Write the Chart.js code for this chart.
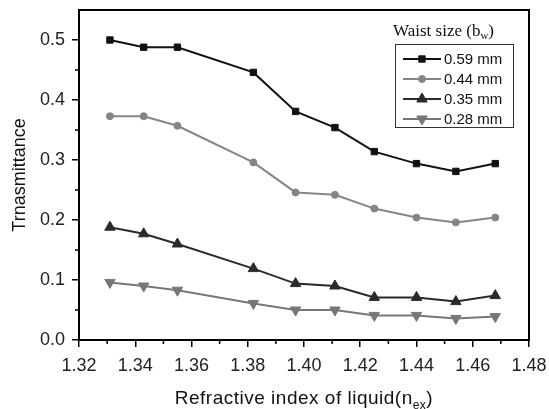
<!DOCTYPE html>
<html>
<head>
<meta charset="utf-8">
<script src="https://cdn.jsdelivr.net/npm/chart.js@4.4.1/dist/chart.umd.min.js"></script>
<style>
  html, body { margin: 0; padding: 0; background: #fff; }
  #wrap { width: 549px; height: 409px; }
</style>
</head>
<body>
<div id="wrap"><canvas id="myChart" width="549" height="409"></canvas></div>
<script>
// refractive index of the liquids
var xValues = [1.331, 1.343, 1.355, 1.382, 1.397, 1.411, 1.425, 1.440, 1.454, 1.468];
// transmittance per waist size
var t059 = [0.500, 0.488, 0.488, 0.446, 0.381, 0.354, 0.314, 0.294, 0.281, 0.294];
var t044 = [0.373, 0.373, 0.357, 0.296, 0.246, 0.242, 0.219, 0.204, 0.196, 0.204];
var t035 = [0.188, 0.177, 0.160, 0.119, 0.094, 0.090, 0.071, 0.071, 0.064, 0.074];
var t028 = [0.096, 0.090, 0.083, 0.061, 0.050, 0.050, 0.041, 0.041, 0.036, 0.039];
var seriesNames = ["0.59 mm", "0.44 mm", "0.35 mm", "0.28 mm"];
var xTicks = [1.32, 1.34, 1.36, 1.38, 1.40, 1.42, 1.44, 1.46, 1.48];
var yTicks = [0.0, 0.1, 0.2, 0.3, 0.4, 0.5];

const sans = "'Liberation Sans', Arial, sans-serif";
const serif = "'Liberation Serif', 'Times New Roman', serif";

function pts(ys) {
  return xValues.map((x, i) => ({ x: x, y: ys[i] }));
}

const styles = [
  { color: "#111", style: "rect", r: 4.5, rot: 0, lw: 2 },
  { color: "#858585", style: "circle", r: 3.5, rot: 0, lw: 2 },
  { color: "#2a2a2a", style: "triangle", r: 6, rot: 0, lw: 2 },
  { color: "#777", style: "triangle", r: 6, rot: 180, lw: 2 }
];
const allSeries = [t059, t044, t035, t028];

const datasets = allSeries.map((s, i) => ({
  label: seriesNames[i],
  data: pts(s),
  borderColor: styles[i].color,
  backgroundColor: styles[i].color,
  borderWidth: styles[i].lw,
  pointStyle: styles[i].style,
  pointRadius: styles[i].r,
  pointRotation: styles[i].rot,
  pointBorderWidth: 1,
  tension: 0
}));

// frame, minor ticks, axis titles and legend box
const extras = {
  id: "extras",
  afterDraw(chart) {
    const ctx = chart.ctx;
    const ca = chart.chartArea;
    const xs = chart.scales.x, ys = chart.scales.y;
    ctx.save();
    ctx.strokeStyle = "#000";
    ctx.lineWidth = 2;
    ctx.strokeRect(ca.left, ca.top, ca.right - ca.left, ca.bottom - ca.top);

    // minor ticks
    ctx.lineWidth = 1.5;
    ctx.beginPath();
    for (let i = 0; i < xTicks.length - 1; i++) {
      const px = xs.getPixelForValue((xTicks[i] + xTicks[i + 1]) / 2);
      ctx.moveTo(px, ca.bottom);
      ctx.lineTo(px, ca.bottom + 4);
    }
    for (let i = 0; i < yTicks.length - 1; i++) {
      const py = ys.getPixelForValue((yTicks[i] + yTicks[i + 1]) / 2);
      ctx.moveTo(ca.left, py);
      ctx.lineTo(ca.left - 4, py);
    }
    ctx.stroke();

    // x title with subscript
    ctx.fillStyle = "#111";
    ctx.textBaseline = "alphabetic";
    ctx.letterSpacing = "0.5px";
    const main = "Refractive index of liquid(n";
    ctx.font = "19px " + sans;
    const w1 = ctx.measureText(main).width;
    ctx.font = "12px " + sans;
    const w2 = ctx.measureText("ex").width;
    ctx.font = "19px " + sans;
    const w3 = ctx.measureText(")").width;
    let tx = (ca.left + ca.right) / 2 - (w1 + w2 + w3) / 2;
    const ty = 404;
    ctx.textAlign = "left";
    ctx.fillText(main, tx, ty);
    ctx.font = "12px " + sans;
    ctx.fillText("ex", tx + w1, ty + 5);
    ctx.font = "19px " + sans;
    ctx.fillText(")", tx + w1 + w2, ty);
    ctx.letterSpacing = "0px";

    // y title
    ctx.save();
    ctx.font = "18px " + sans;
    ctx.translate(25, (ca.top + ca.bottom) / 2);
    ctx.rotate(-Math.PI / 2);
    ctx.textAlign = "center";
    ctx.fillText("Trnasmittance", 0, 0);
    ctx.restore();

    // legend title
    ctx.font = "17px " + serif;
    ctx.textAlign = "left";
    const lt = "Waist size (b";
    const lx = 393;
    ctx.fillText(lt, lx, 36);
    const lw1 = ctx.measureText(lt).width;
    ctx.font = "11px " + serif;
    ctx.fillText("w", lx + lw1, 39);
    const lw2 = ctx.measureText("w").width;
    ctx.font = "17px " + serif;
    ctx.fillText(")", lx + lw1 + lw2, 36);

    // legend box
    ctx.lineWidth = 1;
    ctx.strokeStyle = "#333";
    ctx.strokeRect(395.5, 44.5, 118, 83);
    ctx.font = "15px " + sans;
    ctx.textBaseline = "middle";
    const rows = [59, 79, 99, 119];
    chart.data.datasets.forEach((ds, i) => {
      const y = rows[i];
      ctx.strokeStyle = ds.borderColor;
      ctx.lineWidth = 2;
      ctx.beginPath();
      ctx.moveTo(403, y);
      ctx.lineTo(441, y);
      ctx.stroke();
      ctx.fillStyle = ds.backgroundColor;
      ctx.strokeStyle = ds.borderColor;
      ctx.lineWidth = 1;
      Chart.helpers.drawPoint(ctx, {
        pointStyle: ds.pointStyle,
        radius: ds.pointRadius,
        rotation: ds.pointRotation,
        borderWidth: 1
      }, 422, y);
      ctx.fillStyle = "#111";
      ctx.fillText(ds.label, 444, y + 1);
    });
    ctx.restore();
  }
};

new Chart("myChart", {
  type: "line",
  data: { datasets: datasets },
  options: {
    responsive: false,
    animation: false,
    devicePixelRatio: 1,
    layout: { padding: { top: 10, right: 20, left: 0, bottom: 0 } },
    plugins: {
      legend: { display: false },
      tooltip: { enabled: false }
    },
    scales: {
      x: {
        type: "linear",
        min: 1.32,
        max: 1.48,
        afterBuildTicks: (s) => { s.ticks = xTicks.map(v => ({ value: v })); },
        afterFit: (s) => { s.height = 69; s.paddingLeft = 0; s.paddingRight = 0; },
        ticks: {
          color: "#222",
          font: { family: sans, size: 18 },
          padding: 8,
          maxRotation: 0,
          callback: (v) => Number(v).toFixed(2)
        },
        grid: { drawOnChartArea: false, drawTicks: true, tickLength: 7, color: "#000", lineWidth: 1.5 },
        border: { display: true, color: "#000", width: 2 }
      },
      y: {
        type: "linear",
        min: 0,
        max: 0.55,
        afterBuildTicks: (s) => { s.ticks = yTicks.map(v => ({ value: v })); },
        afterFit: (s) => { s.width = 79; s.paddingTop = 0; s.paddingBottom = 0; },
        ticks: {
          color: "#222",
          font: { family: sans, size: 18 },
          padding: 7,
          callback: (v) => Number(v).toFixed(1)
        },
        grid: { drawOnChartArea: false, drawTicks: true, tickLength: 7, color: "#000", lineWidth: 1.5 },
        border: { display: true, color: "#000", width: 2 }
      }
    }
  },
  plugins: [extras]
});
</script>
</body>
</html>
